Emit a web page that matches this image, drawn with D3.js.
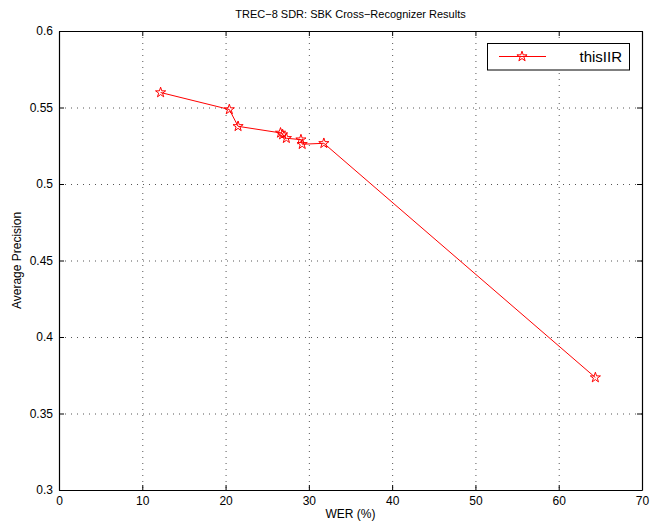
<!DOCTYPE html>
<html>
<head>
<meta charset="UTF-8">
<script src="https://cdn.jsdelivr.net/npm/d3@7"></script>
<style>
  body { margin: 0; background: #fff; }
  text { font-family: "Liberation Sans", Arial, sans-serif; fill: #000; }
</style>
</head>
<body>
<script>
// WER (%) and average precision per recognizer
var wer = [12.2, 20.45, 21.5, 26.6, 26.85, 27.3, 29.05, 29.2, 31.8, 64.4];
var avgPrec = [0.5598, 0.5487, 0.5377, 0.5334, 0.5323, 0.5299, 0.529, 0.526, 0.5266, 0.3735];
var xTicks = [0, 10, 20, 30, 40, 50, 60, 70];
var yTicks = [0.3, 0.35, 0.4, 0.45, 0.5, 0.55, 0.6];
var seriesName = "thisIIR";

var W = 661, H = 524;
var pL = 59, pR = 642, pT = 31, pB = 490;

var svg = d3.select("body").append("svg")
  .attr("width", W).attr("height", H);

var x = d3.scaleLinear().domain([0, 70]).range([pL, pR]);
var y = d3.scaleLinear().domain([0.3, 0.6]).range([pB, pT]);

// grid
svg.selectAll(".gx").data(xTicks.slice(1, -1)).enter().append("line")
  .attr("x1", d => x(d) + 0.5).attr("x2", d => x(d) + 0.5)
  .attr("y1", pT).attr("y2", pB)
  .attr("stroke", "#555").attr("stroke-width", 1)
  .attr("stroke-dasharray", "1,5");
svg.selectAll(".gy").data(yTicks.slice(1, -1)).enter().append("line")
  .attr("y1", d => y(d) + 0.5).attr("y2", d => y(d) + 0.5)
  .attr("x1", pL).attr("x2", pR)
  .attr("stroke", "#555").attr("stroke-width", 1)
  .attr("stroke-dasharray", "1,5");

// axes, ticks inside on all four sides
var fmt = d3.format("");
svg.append("g").attr("transform", "translate(0," + pB + ")")
  .call(d3.axisBottom(x).tickValues(xTicks).tickSizeInner(-5).tickSizeOuter(0).tickPadding(6).tickFormat(fmt));
svg.append("g").attr("transform", "translate(" + pL + ",0)")
  .call(d3.axisLeft(y).tickValues(yTicks).tickSizeInner(-5).tickSizeOuter(0).tickPadding(6).tickFormat(fmt));
svg.append("g").attr("transform", "translate(0," + pT + ")")
  .call(d3.axisTop(x).tickValues(xTicks).tickSizeInner(-5).tickSizeOuter(0).tickFormat(""));
svg.append("g").attr("transform", "translate(" + pR + ",0)")
  .call(d3.axisRight(y).tickValues(yTicks).tickSizeInner(-5).tickSizeOuter(0).tickFormat(""));

svg.selectAll(".domain").attr("stroke", "#000").attr("stroke-width", 1.2);
svg.selectAll(".tick line").attr("stroke", "#000");
svg.selectAll(".tick text").attr("font-size", 12)
  .attr("font-family", "Liberation Sans, Arial, sans-serif");

// line + markers
var pts = wer.map((d, i) => [d, avgPrec[i]]);
svg.append("path").datum(pts)
  .attr("fill", "none").attr("stroke", "#ff0000").attr("stroke-width", 1)
  .attr("d", d3.line().x(d => x(d[0])).y(d => y(d[1])));

var star = d3.symbol().type(d3.symbolStar).size(32);
svg.selectAll(".pt").data(pts).enter().append("path")
  .attr("transform", d => "translate(" + x(d[0]) + "," + y(d[1]) + ")")
  .attr("d", star)
  .attr("fill", "none").attr("stroke", "#ff0000").attr("stroke-width", 1);

// labels
svg.append("text").attr("x", (pL + pR) / 2).attr("y", 18)
  .attr("text-anchor", "middle").attr("font-size", 11)
  .text("TREC\u22128 SDR: SBK Cross\u2212Recognizer Results");
svg.append("text").attr("x", (pL + pR) / 2).attr("y", 518)
  .attr("text-anchor", "middle").attr("font-size", 12)
  .text("WER (%)");
svg.append("text")
  .attr("transform", "translate(21," + (pT + pB) / 2 + ") rotate(-90)")
  .attr("text-anchor", "middle").attr("font-size", 12)
  .text("Average Precision");

// legend
var lg = svg.append("g");
lg.append("rect").attr("x", 487.5).attr("y", 43.5).attr("width", 142).attr("height", 26.5)
  .attr("fill", "#fff").attr("stroke", "#000").attr("stroke-width", 1);
lg.append("line").attr("x1", 499).attr("x2", 546).attr("y1", 56.5).attr("y2", 56.5)
  .attr("stroke", "#ff0000").attr("stroke-width", 1);
lg.append("path").attr("transform", "translate(522,56.5)").attr("d", star)
  .attr("fill", "none").attr("stroke", "#ff0000");
lg.append("text").attr("x", 622).attr("y", 62).attr("text-anchor", "end")
  .attr("font-size", 15).text(seriesName);
</script>
</body>
</html>
